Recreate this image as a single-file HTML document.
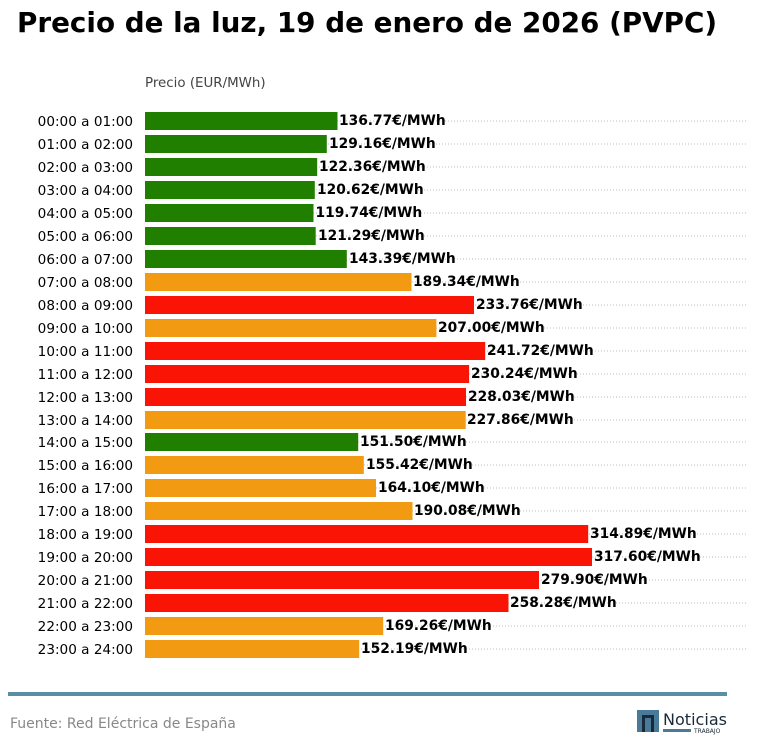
<!DOCTYPE html>
<html><head><meta charset="utf-8"><style>
body{margin:0;background:#fff;width:758px;height:755px;overflow:hidden}
svg{display:block;font-family:"DejaVu Sans","Liberation Sans",sans-serif}
.t{font-size:13.6px;fill:#000;text-anchor:end;dominant-baseline:central}
.v{font-size:13.8px;font-weight:bold;fill:#000;dominant-baseline:central}
.g{stroke:#bbb;stroke-width:1;stroke-dasharray:1,2}
</style></head><body>
<svg width="758" height="755" viewBox="0 0 758 755">
<text x="17" y="32" font-size="27.8" font-weight="bold" fill="#000">Precio de la luz, 19 de enero de 2026 (PVPC)</text>
<text x="145" y="87" font-size="13.4" fill="#444">Precio (EUR/MWh)</text>
<g transform="translate(0,1)">
<g id="grid">
<line class="g" x1="145" x2="748" y1="120" y2="120"/><line class="g" x1="145" x2="748" y1="143" y2="143"/><line class="g" x1="145" x2="748" y1="166" y2="166"/><line class="g" x1="145" x2="748" y1="189" y2="189"/><line class="g" x1="145" x2="748" y1="212" y2="212"/><line class="g" x1="145" x2="748" y1="235" y2="235"/><line class="g" x1="145" x2="748" y1="258" y2="258"/><line class="g" x1="145" x2="748" y1="281" y2="281"/><line class="g" x1="145" x2="748" y1="304" y2="304"/><line class="g" x1="145" x2="748" y1="327" y2="327"/><line class="g" x1="145" x2="748" y1="350" y2="350"/><line class="g" x1="145" x2="748" y1="373" y2="373"/><line class="g" x1="145" x2="748" y1="396" y2="396"/><line class="g" x1="145" x2="748" y1="419" y2="419"/><line class="g" x1="145" x2="748" y1="441" y2="441"/><line class="g" x1="145" x2="748" y1="464" y2="464"/><line class="g" x1="145" x2="748" y1="487" y2="487"/><line class="g" x1="145" x2="748" y1="510" y2="510"/><line class="g" x1="145" x2="748" y1="533" y2="533"/><line class="g" x1="145" x2="748" y1="556" y2="556"/><line class="g" x1="145" x2="748" y1="579" y2="579"/><line class="g" x1="145" x2="748" y1="602" y2="602"/><line class="g" x1="145" x2="748" y1="625" y2="625"/><line class="g" x1="145" x2="748" y1="648" y2="648"/>
</g>
<g>
<rect x="145" y="111" width="192.5" height="18" fill="#217f00"/>
<rect x="145" y="134" width="181.8" height="18" fill="#217f00"/>
<rect x="145" y="157" width="172.2" height="18" fill="#217f00"/>
<rect x="145" y="180" width="169.8" height="18" fill="#217f00"/>
<rect x="145" y="203" width="168.5" height="18" fill="#217f00"/>
<rect x="145" y="226" width="170.7" height="18" fill="#217f00"/>
<rect x="145" y="249" width="201.8" height="18" fill="#217f00"/>
<rect x="145" y="272" width="266.5" height="18" fill="#f29b12"/>
<rect x="145" y="295" width="329.0" height="18" fill="#f91405"/>
<rect x="145" y="318" width="291.4" height="18" fill="#f29b12"/>
<rect x="145" y="341" width="340.2" height="18" fill="#f91405"/>
<rect x="145" y="364" width="324.1" height="18" fill="#f91405"/>
<rect x="145" y="387" width="321.0" height="18" fill="#f91405"/>
<rect x="145" y="410" width="320.7" height="18" fill="#f29b12"/>
<rect x="145" y="432" width="213.2" height="18" fill="#217f00"/>
<rect x="145" y="455" width="218.8" height="18" fill="#f29b12"/>
<rect x="145" y="478" width="231.0" height="18" fill="#f29b12"/>
<rect x="145" y="501" width="267.5" height="18" fill="#f29b12"/>
<rect x="145" y="524" width="443.2" height="18" fill="#f91405"/>
<rect x="145" y="547" width="447.0" height="18" fill="#f91405"/>
<rect x="145" y="570" width="394.0" height="18" fill="#f91405"/>
<rect x="145" y="593" width="363.5" height="18" fill="#f91405"/>
<rect x="145" y="616" width="238.2" height="18" fill="#f29b12"/>
<rect x="145" y="639" width="214.2" height="18" fill="#f29b12"/>
</g>
<g>
<text class="t" x="133" y="121">00:00 a 01:00</text><text class="v" x="339" y="120">136.77€/MWh</text>
<text class="t" x="133" y="144">01:00 a 02:00</text><text class="v" x="329" y="143">129.16€/MWh</text>
<text class="t" x="133" y="167">02:00 a 03:00</text><text class="v" x="319" y="166">122.36€/MWh</text>
<text class="t" x="133" y="190">03:00 a 04:00</text><text class="v" x="317" y="189">120.62€/MWh</text>
<text class="t" x="133" y="213">04:00 a 05:00</text><text class="v" x="315.5" y="212">119.74€/MWh</text>
<text class="t" x="133" y="236">05:00 a 06:00</text><text class="v" x="318" y="235">121.29€/MWh</text>
<text class="t" x="133" y="259">06:00 a 07:00</text><text class="v" x="349" y="258">143.39€/MWh</text>
<text class="t" x="133" y="282">07:00 a 08:00</text><text class="v" x="413" y="281">189.34€/MWh</text>
<text class="t" x="133" y="305">08:00 a 09:00</text><text class="v" x="476" y="304">233.76€/MWh</text>
<text class="t" x="133" y="328">09:00 a 10:00</text><text class="v" x="438" y="327">207.00€/MWh</text>
<text class="t" x="133" y="351">10:00 a 11:00</text><text class="v" x="487" y="350">241.72€/MWh</text>
<text class="t" x="133" y="374">11:00 a 12:00</text><text class="v" x="471" y="373">230.24€/MWh</text>
<text class="t" x="133" y="397">12:00 a 13:00</text><text class="v" x="468" y="396">228.03€/MWh</text>
<text class="t" x="133" y="420">13:00 a 14:00</text><text class="v" x="467" y="419">227.86€/MWh</text>
<text class="t" x="133" y="442">14:00 a 15:00</text><text class="v" x="360" y="441">151.50€/MWh</text>
<text class="t" x="133" y="465">15:00 a 16:00</text><text class="v" x="366" y="464">155.42€/MWh</text>
<text class="t" x="133" y="488">16:00 a 17:00</text><text class="v" x="378" y="487">164.10€/MWh</text>
<text class="t" x="133" y="511">17:00 a 18:00</text><text class="v" x="414" y="510">190.08€/MWh</text>
<text class="t" x="133" y="534">18:00 a 19:00</text><text class="v" x="590" y="533">314.89€/MWh</text>
<text class="t" x="133" y="557">19:00 a 20:00</text><text class="v" x="594" y="556">317.60€/MWh</text>
<text class="t" x="133" y="580">20:00 a 21:00</text><text class="v" x="541" y="579">279.90€/MWh</text>
<text class="t" x="133" y="603">21:00 a 22:00</text><text class="v" x="510" y="602">258.28€/MWh</text>
<text class="t" x="133" y="626">22:00 a 23:00</text><text class="v" x="385" y="625">169.26€/MWh</text>
<text class="t" x="133" y="649">23:00 a 24:00</text><text class="v" x="361" y="648">152.19€/MWh</text>
</g>
</g>
<rect x="8" y="692" width="719" height="4" fill="#5b8ea6"/>
<text x="10" y="728" font-size="14" fill="#888">Fuente: Red Eléctrica de España</text>
<rect x="637" y="710" width="22" height="22" fill="#4a7a99"/>
<rect x="642" y="715" width="12" height="17" fill="#1b2a3a"/>
<rect x="645" y="718" width="6" height="14" fill="#4a7a99"/>
<text x="663" y="725" font-size="16" fill="#1b2a3a" textLength="64">Noticias</text>
<rect x="663" y="729" width="28" height="3" fill="#4a7a99"/>
<text x="694" y="733" font-size="6" fill="#1b2a3a">TRABAJO</text>
</svg>
</body></html>
